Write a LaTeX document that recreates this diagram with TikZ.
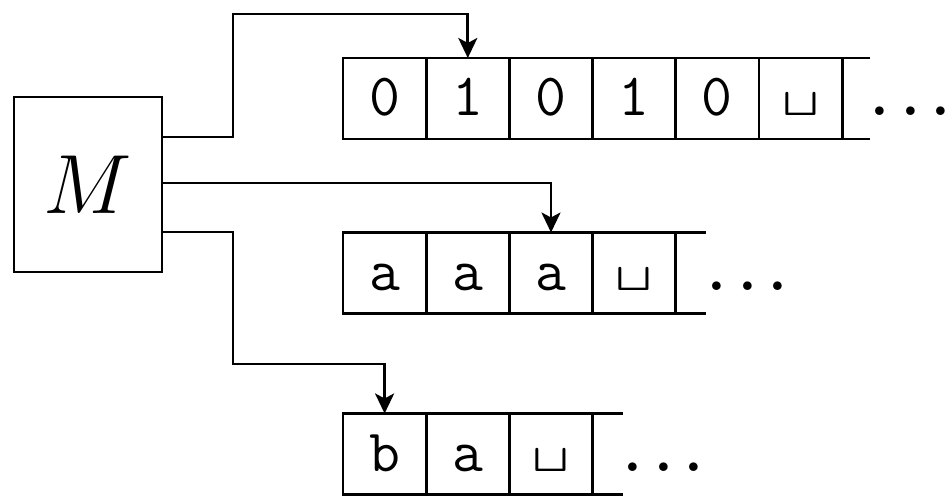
\RequirePackage{fix-cm}
\documentclass[tikz,border=0pt]{standalone}
\usepackage{fontspec}
\usepackage{graphicx}
\usetikzlibrary{arrows.meta,calc}
\newcommand{\blanksym}{\scalebox{1}[0.8]{\fontsize{24}{24}\selectfont\boldmath$\sqcup$}}
\newcommand{\tapedots}{.\kern5.9pt.\kern5.9pt.}
\begin{document}
\begin{tikzpicture}[x=0.5pt,y=-0.5pt,line width=1.4pt,
  cell/.style={draw, rectangle, inner sep=0pt, outer sep=0pt,
    minimum width=41.6pt, minimum height=40.5pt,
    text height=29pt, text depth=11.5pt,
    font=\fontsize{30}{30}\selectfont\ttfamily},
  dotsn/.style={anchor=base west, inner sep=0pt,
    font=\fontsize{30}{30}\selectfont\rmfamily\bfseries},
  machine/.style={draw, rectangle, inner sep=0pt, outer sep=0pt,
    minimum width=74pt, minimum height=87.5pt,
    font=\fontsize{42}{42}\selectfont},
  arr/.style={-{Stealth[length=10pt,width=9.5pt,inset=2.5pt]}},
]
\useasboundingbox[fill=white] (0,0) rectangle (952,496);

% machine
\node[machine] (M) at (88,184.5) {$M$};

% tape 1
\node[cell] (t1c1) at (384.6,98.5) {0};
\node[cell] (t1c2) at (467.8,98.5) {1};
\node[cell] (t1c3) at (551.0,98.5) {0};
\node[cell] (t1c4) at (634.2,98.5) {1};
\node[cell] (t1c5) at (717.4,98.5) {0};
\node[cell] (t1c6) at (800.6,98.5) {\blanksym};
\draw (t1c6.north east) -- ++(28,0);
\draw (t1c6.south east) -- ++(28,0);
\node[dotsn] (d1) at ([xshift=13.6pt]t1c6.base east) {\tapedots};

% tape 2
\node[cell] (t2c1) at (384.6,273) {a};
\node[cell] (t2c2) at (467.8,273) {a};
\node[cell] (t2c3) at (551.0,273) {a};
\node[cell] (t2c4) at (634.2,273) {\blanksym};
\draw (t2c4.north east) -- ++(30,0);
\draw (t2c4.south east) -- ++(30,0);
\node[dotsn] (d2) at ([xshift=15.3pt]t2c4.base east) {\tapedots};

% tape 3
\node[cell] (t3c1) at (384.6,454) {b};
\node[cell] (t3c2) at (467.8,454) {a};
\node[cell] (t3c3) at (551.0,454) {\blanksym};
\draw (t3c3.north east) -- ++(30,0);
\draw (t3c3.south east) -- ++(30,0);
\node[dotsn] (d3) at ([xshift=14.9pt]t3c3.base east) {\tapedots};

% heads
\coordinate (j1) at (233,14);
\coordinate (j3) at (233,364);
\draw[arr] ($(M.north east)!0.229!(M.south east)$) -| (j1) -| (t1c2.north);
\draw[arr] ($(M.north east)!0.491!(M.south east)$) -| (t2c3.north);
\draw[arr] ($(M.north east)!0.771!(M.south east)$) -| (j3) -| (t3c1.north);
\end{tikzpicture}
\end{document}
